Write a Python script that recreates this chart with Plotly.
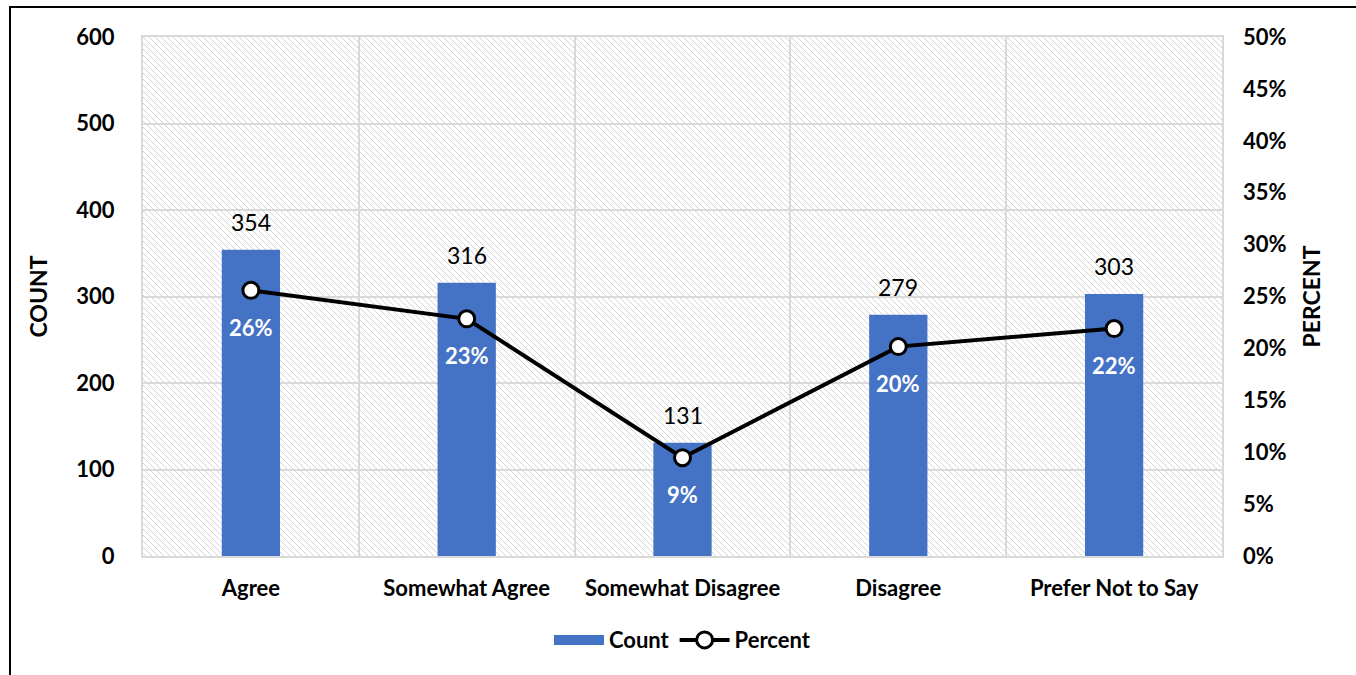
import base64
import plotly.graph_objects as go

# Survey responses
categories = ["Agree", "Somewhat Agree", "Somewhat Disagree", "Disagree", "Prefer Not to Say"]
counts = [354, 316, 131, 279, 303]
total = sum(counts)
percents = [c / total for c in counts]

count_ticks = [0, 100, 200, 300, 400, 500, 600]
percent_ticks = [0, 0.05, 0.10, 0.15, 0.20, 0.25, 0.30, 0.35, 0.40, 0.45, 0.50]

BAR_BLUE = "#4472C4"
GRID = "#d9d9d9"
FONT = "Lato"

# Plot area size in pixels (used for the hatched background tile)
W, H = 1356, 675
ML, MR, MT, MB = 143, 134, 37, 119
PW, PH = W - ML - MR, H - MT - MB

hatch_svg = f"""<svg xmlns='http://www.w3.org/2000/svg' width='{PW}' height='{PH}' shape-rendering='crispEdges'>
<defs><pattern id='h' width='6' height='6' patternUnits='userSpaceOnUse'>
<path d='M-1,-1 L7,7 M-1,5 L1,7 M5,-1 L7,1' stroke='#d4d4d4' stroke-width='1'/>
</pattern></defs>
<rect width='{PW}' height='{PH}' fill='white'/>
<rect width='{PW}' height='{PH}' fill='url(#h)'/>
</svg>"""
hatch_uri = "data:image/svg+xml;base64," + base64.b64encode(hatch_svg.encode()).decode()

fig = go.Figure()

fig.add_trace(go.Bar(
    x=categories, y=counts, name="Count",
    marker=dict(color=BAR_BLUE, line=dict(width=0)),
    width=0.27, yaxis="y", showlegend=False,
))

# Legend key for the bars: a wide filled swatch
fig.add_trace(go.Scatter(
    x=[None], y=[None], name="Count", mode="lines",
    line=dict(color=BAR_BLUE, width=14), yaxis="y",
))

fig.add_trace(go.Scatter(
    x=categories, y=percents, name="Percent", mode="lines+markers",
    line=dict(color="black", width=4),
    marker=dict(symbol="circle", size=16, color="white",
                line=dict(color="black", width=3)),
    yaxis="y2",
))

annotations = []
for cat, c, p in zip(categories, counts, percents):
    annotations.append(dict(
        x=cat, y=c, xref="x", yref="y", text=str(c), showarrow=False,
        yanchor="middle", yshift=28,
        font=dict(family=FONT, size=23, color="black"),
    ))
    annotations.append(dict(
        x=cat, y=p, xref="x", yref="y2", text=f"{p:.0%}", showarrow=False,
        yanchor="middle", yshift=-37,
        font=dict(family=FONT, size=22, color="white", weight="bold"),
    ))

tick_font = dict(family=FONT, size=22, color="black", weight="bold")
title_font = dict(family=FONT, size=23, color="black", weight="bold")

fig.update_layout(
    width=W, height=H,
    margin=dict(l=ML, r=MR, t=MT, b=MB),
    paper_bgcolor="white",
    plot_bgcolor="rgba(0,0,0,0)",
    showlegend=True,
    legend=dict(orientation="h", x=0.5, xanchor="center", y=-0.162, yanchor="middle",
                font=tick_font, itemwidth=50, traceorder="normal"),
    xaxis=dict(
        type="category", tickson="boundaries", showgrid=True, gridcolor=GRID, gridwidth=2,
        showline=True, linecolor=GRID, linewidth=2, mirror=True,
        ticks="", tickfont=tick_font, ticklabelstandoff=12,
    ),
    yaxis=dict(
        range=[0, 600], tickvals=count_ticks, showgrid=True, gridcolor=GRID, gridwidth=2,
        showline=True, linecolor=GRID, linewidth=2, mirror=True, zeroline=False,
        ticks="", tickfont=tick_font, ticklabelstandoff=22,
        title=dict(text="COUNT", font=title_font, standoff=22),
    ),
    yaxis2=dict(
        range=[0, 0.5], tickvals=percent_ticks, tickformat=".0%", overlaying="y", side="right",
        showgrid=False, zeroline=False, ticks="", tickfont=tick_font, ticklabelstandoff=20,
        title=dict(text="PERCENT", font=title_font, standoff=18),
    ),
    annotations=annotations,
    images=[dict(source=hatch_uri, xref="paper", yref="paper", x=0, y=1,
                 sizex=1, sizey=1, xanchor="left", yanchor="top",
                 sizing="stretch", layer="below")],
    shapes=[dict(type="rect", xref="paper", yref="paper",
                 x0=(10 - ML) / PW, x1=(W + 5 - ML) / PW,
                 y0=(PH - (H + 5 - MT)) / PH, y1=(PH - (7 - MT)) / PH,
                 line=dict(color="black", width=2), fillcolor="rgba(0,0,0,0)",
                 layer="below")],
)

fig.write_html("out.html")
